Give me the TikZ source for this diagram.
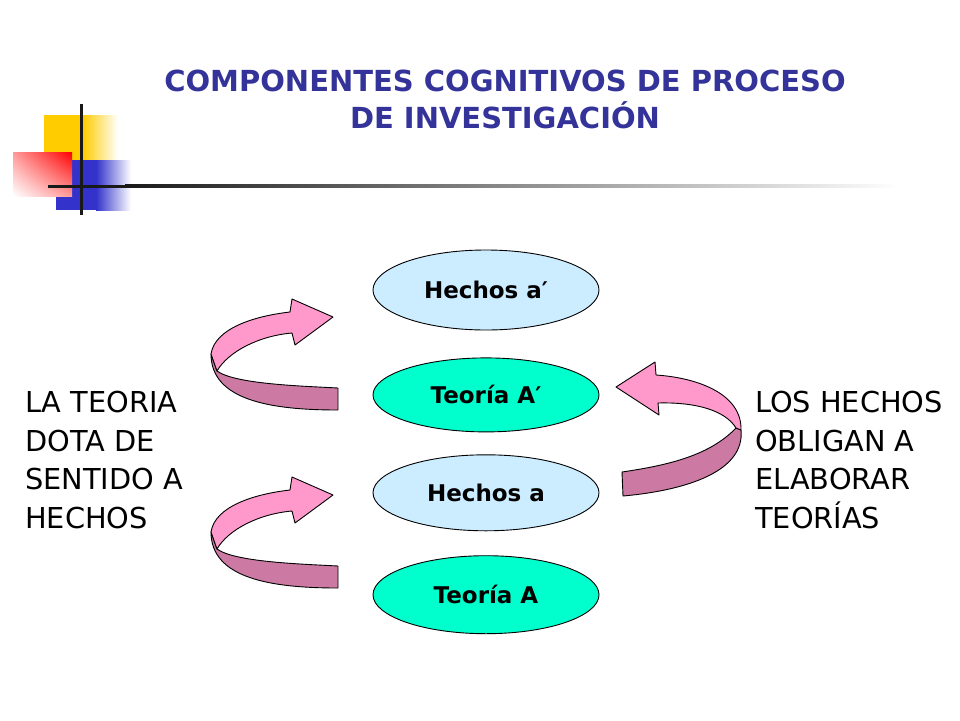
\documentclass[tikz,border=0pt]{standalone}
\usepackage{fontspec}
\setmainfont{DejaVu Sans}
\usetikzlibrary{positioning,shapes.geometric,shadings}

\definecolor{titleblue}{RGB}{51,51,153}
\definecolor{factblue}{RGB}{204,236,255}
\definecolor{theorygreen}{RGB}{0,255,204}
\definecolor{pinklight}{RGB}{255,153,204}
\definecolor{pinkdark}{RGB}{204,122,163}
\definecolor{yellowsq}{RGB}{255,204,0}
\definecolor{bluesq}{RGB}{51,51,204}

% twisted ribbon arrow, turning right (used twice)
\newcommand{\ribbonright}{%
  \filldraw[ribbon, fill=pinkdark] (338,388) .. controls (300,386) and (235,384) .. (217,371)
    -- (211,354) .. controls (211,400) and (270,410) .. (338,410) -- cycle;
  \filldraw[ribbon, fill=pinklight] (211,354) .. controls (215,328) and (255,316) .. (290,312)
    -- (292,299) -- (333,317) -- (295,345) -- (292,333)
    .. controls (258,336) and (228,352) .. (217,371) -- cycle;
}

\begin{document}
\begin{tikzpicture}[x=1pt, y=-1pt, node distance=24pt,
    hechos/.style={draw, ellipse, fill=factblue, minimum width=226pt, line width=0.9pt,
      font=\fontsize{23}{27}\selectfont\bfseries},
    teoria/.style={hechos, fill=theorygreen},
    ribbon/.style={draw=black, line width=0.9pt, line join=round},
    sidetext/.style={anchor=north west, inner sep=0pt, align=left,
      font=\fontsize{28.8}{38.5}\selectfont}]
  \useasboundingbox (0,0) rectangle (960,720);

  % corner squares and rule
  \fill[yellowsq] (44,115) rectangle (83,160);
  \shade[left color=yellowsq, right color=white] (83,115) rectangle (118,160);
  \fill[bluesq] (56,160) rectangle (96,210);
  \shade[left color=bluesq, right color=white] (96,160) rectangle (131,210);
  \shade[upper right=red, lower left=white, upper left=red!40!white, lower right=red!40!white]
    (13,152) rectangle (72,196);
  \fill[black!90] (48,184.5) rectangle (125,187.5);
  \shade[left color=black!90, right color=white] (125,184.5) rectangle (900,187.5);
  \draw[line width=3pt, black!90] (81,104) -- (81,215);

  \node[anchor=north, inner sep=0pt, align=center, text=titleblue,
    font=\fontsize{29}{37}\selectfont\bfseries] (title) at (505,70)
    {COMPONENTES COGNITIVOS DE PROCESO\\DE INVESTIGACIÓN};

  \node[hechos, minimum height=80pt] (ha2) at (486,290) {Hechos a′};
  \node[teoria, minimum height=74pt, below=27pt of ha2] (ta2) {Teoría A′};
  \node[hechos, minimum height=76pt, below=22pt of ta2] (ha) {Hechos a};
  \node[teoria, minimum height=78pt, below=24pt of ha] (ta) {Teoría A};

  \node[sidetext] (left) at (25,391) {LA TEORIA\\DOTA DE\\SENTIDO A\\HECHOS};
  \node[sidetext] (right) at (755,391) {LOS HECHOS\\OBLIGAN A\\ELABORAR\\TEORÍAS};

  % ribbon arrows
  \ribbonright
  \begin{scope}[shift={(0,178)}]
    \ribbonright
  \end{scope}
  \filldraw[ribbon, fill=pinkdark] (736,428) .. controls (710,455) and (670,465) .. (622,472)
    -- (623,496) .. controls (690,490) and (745,470) .. (741,430) -- cycle;
  \filldraw[ribbon, fill=pinklight] (656,375) .. controls (700,378) and (742,395) .. (741,430)
    -- (736,428) .. controls (725,410) and (695,402) .. (658,403)
    -- (659,415) -- (616,387) -- (655,362) -- cycle;
\end{tikzpicture}
\end{document}
